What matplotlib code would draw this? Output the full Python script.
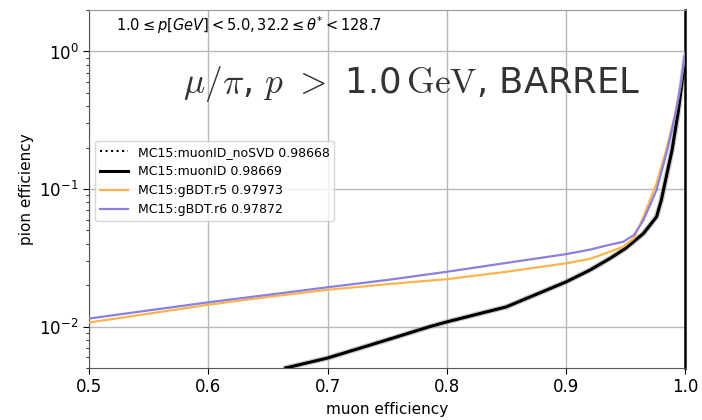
import matplotlib
matplotlib.use("Agg")
import matplotlib.pyplot as plt

# --- data ---
bdt_muon_eff = [0.5, 0.55, 0.6, 0.65, 0.7, 0.75, 0.8, 0.85, 0.9, 0.92, 0.935, 0.948,
                0.957, 0.965, 0.976, 0.985, 0.992, 0.996, 1.0]
r6_pion_eff = [0.01143, 0.0131, 0.0150, 0.0170, 0.0193, 0.0218, 0.0250, 0.0290, 0.0336,
               0.0362, 0.0390, 0.0413, 0.0462, 0.0594, 0.098, 0.192, 0.356, 0.55, 0.98]
r5_pion_eff = [0.0107, 0.0124, 0.0144, 0.0164, 0.0185, 0.0203, 0.0221, 0.0250, 0.0288,
               0.0310, 0.0345, 0.0380, 0.0437, 0.0628, 0.110, 0.204, 0.365, 0.56, 0.98]

muid_muon_eff = [0.665, 0.7, 0.75, 0.786, 0.8, 0.85, 0.9, 0.92, 0.937, 0.95, 0.965,
                 0.976, 0.980, 0.983, 0.989, 0.994, 1.0]
muid_pion_eff = [0.005, 0.0059, 0.0080, 0.0100, 0.0108, 0.0139, 0.0211, 0.0257, 0.0313,
                 0.0370, 0.0475, 0.0628, 0.083, 0.110, 0.192, 0.356, 0.90]
nosvd_pion_eff = [0.005, 0.0059, 0.0080, 0.0100, 0.0108, 0.0139, 0.0211, 0.0257, 0.0313,
                  0.0370, 0.0475, 0.0628, 0.083, 0.110, 0.192, 0.356, 0.90]

labels = ["MC15:muonID_noSVD 0.98668", "MC15:muonID 0.98669",
          "MC15:gBDT.r5 0.97973", "MC15:gBDT.r6 0.97872"]
x_ticks = [0.5, 0.6, 0.7, 0.8, 0.9, 1.0]

fig = plt.figure(figsize=(7.02, 4.2), dpi=100)
ax = fig.add_axes([0.127, 0.124, 0.849, 0.852])

ax.plot(muid_muon_eff, muid_pion_eff, color="0.6", lw=4.0, alpha=0.5, zorder=2,
        solid_joinstyle="round")
ax.plot(muid_muon_eff, nosvd_pion_eff, color="black", lw=1.5, ls=":", label=labels[0], zorder=3)
ax.plot(muid_muon_eff, muid_pion_eff, color="black", lw=2.2, label=labels[1], zorder=3,
        solid_joinstyle="round")
ax.plot(bdt_muon_eff, r5_pion_eff, color="#fdb44f", lw=1.6, label=labels[2], zorder=4,
        solid_joinstyle="round")
ax.plot(bdt_muon_eff, r6_pion_eff, color="#8a80e0", lw=1.6, label=labels[3], zorder=5,
        solid_joinstyle="round")

ax.set_yscale("log")
ax.set_xlim(0.5, 1.0)
ax.set_ylim(0.005, 2.0)
ax.set_xticks(x_ticks)
ax.set_xticklabels([f"{t:.1f}" for t in x_ticks])
ax.grid(True, which="major", color="#b8b8b8", lw=1.0)
ax.tick_params(axis="both", which="major", labelsize=12, length=4)
ax.tick_params(axis="y", which="minor", length=2.5)
ax.set_xlabel("muon efficiency", fontsize=11)
ax.set_ylabel("pion efficiency", fontsize=11)

for s in ["left", "bottom"]:
    ax.spines[s].set_color("#555555")
ax.spines["top"].set_color("#999999")
ax.spines["right"].set_color("black")
ax.spines["right"].set_linewidth(1.8)

ax.text(0.045, 0.958, r"$1.0 \leq p[GeV] < 5.0, 32.2 \leq \theta^{*} < 128.7$",
        transform=ax.transAxes, fontsize=10.5, ha="left", va="center")
ax.text(0.158, 0.767, r"$\mu/\pi$, $p$ $>$ 1.0$\,\mathrm{GeV}$, BARREL",
        transform=ax.transAxes, fontsize=25.5, ha="left", va="baseline",
        math_fontfamily="cm", color="#333333")

ax.legend(loc="upper left", bbox_to_anchor=(0.01, 0.635), fontsize=9,
          framealpha=0.8, edgecolor="#cccccc", handlelength=2.2, borderaxespad=0)

fig.savefig("out.png", dpi=100)
